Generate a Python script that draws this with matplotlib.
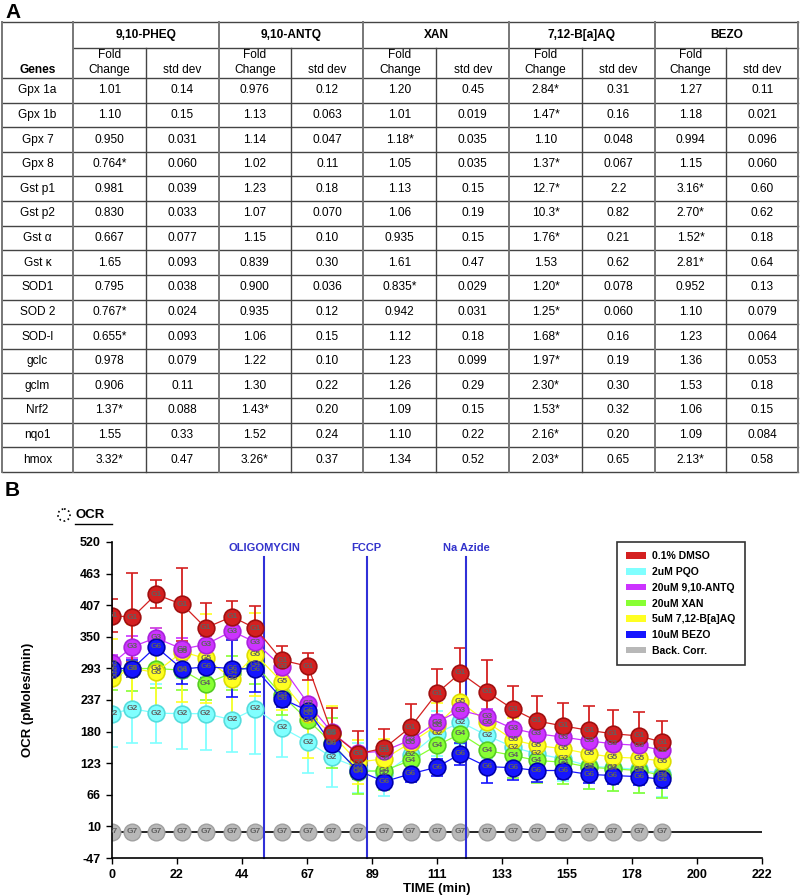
import numpy as np
import matplotlib.pyplot as plt
from matplotlib.patches import Patch, Circle

plt.rcParams['font.family'] = ['Liberation Sans', 'DejaVu Sans']

# ---------------- Panel A data ----------------
compounds = ["9,10-PHEQ", "9,10-ANTQ", "XAN", "7,12-B[a]AQ", "BEZO"]
genes = ["Gpx 1a", "Gpx 1b", "Gpx 7", "Gpx 8", "Gst p1", "Gst p2", "Gst α", "Gst κ",
         "SOD1", "SOD 2", "SOD-l", "gclc", "gclm", "Nrf2", "nqo1", "hmox"]

pheq_fc = ["1.01", "1.10", "0.950", "0.764*", "0.981", "0.830", "0.667", "1.65",
           "0.795", "0.767*", "0.655*", "0.978", "0.906", "1.37*", "1.55", "3.32*"]
pheq_sd = ["0.14", "0.15", "0.031", "0.060", "0.039", "0.033", "0.077", "0.093",
           "0.038", "0.024", "0.093", "0.079", "0.11", "0.088", "0.33", "0.47"]
antq_fc = ["0.976", "1.13", "1.14", "1.02", "1.23", "1.07", "1.15", "0.839",
           "0.900", "0.935", "1.06", "1.22", "1.30", "1.43*", "1.52", "3.26*"]
antq_sd = ["0.12", "0.063", "0.047", "0.11", "0.18", "0.070", "0.10", "0.30",
           "0.036", "0.12", "0.15", "0.10", "0.22", "0.20", "0.24", "0.37"]
xan_fc = ["1.20", "1.01", "1.18*", "1.05", "1.13", "1.06", "0.935", "1.61",
          "0.835*", "0.942", "1.12", "1.23", "1.26", "1.09", "1.10", "1.34"]
xan_sd = ["0.45", "0.019", "0.035", "0.035", "0.15", "0.19", "0.15", "0.47",
          "0.029", "0.031", "0.18", "0.099", "0.29", "0.15", "0.22", "0.52"]
baq_fc = ["2.84*", "1.47*", "1.10", "1.37*", "12.7*", "10.3*", "1.76*", "1.53",
          "1.20*", "1.25*", "1.68*", "1.97*", "2.30*", "1.53*", "2.16*", "2.03*"]
baq_sd = ["0.31", "0.16", "0.048", "0.067", "2.2", "0.82", "0.21", "0.62",
          "0.078", "0.060", "0.16", "0.19", "0.30", "0.32", "0.20", "0.65"]
bezo_fc = ["1.27", "1.18", "0.994", "1.15", "3.16*", "2.70*", "1.52*", "2.81*",
           "0.952", "1.10", "1.23", "1.36", "1.53", "1.06", "1.09", "2.13*"]
bezo_sd = ["0.11", "0.021", "0.096", "0.060", "0.60", "0.62", "0.18", "0.64",
           "0.13", "0.079", "0.064", "0.053", "0.18", "0.15", "0.084", "0.58"]

# ---------------- Panel B data ----------------
time = [0, 7, 15, 24, 32, 41, 49, 58, 67, 75, 84, 93, 102, 111, 119, 128, 137, 145, 154, 163, 171, 180, 188]

dmso = [388, 385, 426, 408, 366, 386, 365, 308, 297, 178, 140, 150, 188, 249, 285, 251, 220, 199, 190, 182, 176, 172, 161]
dmso_err = [30, 80, 25, 65, 45, 28, 40, 25, 24, 45, 41, 35, 41, 44, 45, 57, 42, 45, 42, 44, 42, 43, 38]
pqo = [212, 221, 213, 212, 212, 201, 221, 187, 161, 134, 115, 104, 138, 176, 197, 173, 152, 140, 131, 118, 115, 112, 104]
pqo_err = [60, 62, 53, 64, 66, 58, 82, 53, 55, 54, 45, 40, 40, 40, 40, 40, 40, 40, 40, 42, 42, 42, 42]
antq = [302, 332, 348, 328, 336, 360, 340, 296, 230, 179, 141, 145, 165, 197, 218, 206, 185, 176, 170, 163, 158, 155, 146]
antq_err = [15, 20, 18, 20, 15, 12, 15, 15, 10, 10, 10, 10, 12, 12, 12, 15, 10, 10, 10, 10, 10, 10, 10]
xan = [285, 293, 293, 290, 266, 285, 300, 245, 200, 160, 108, 110, 128, 155, 176, 146, 137, 128, 125, 116, 113, 110, 101]
xan_err = [30, 40, 35, 35, 30, 30, 35, 35, 40, 45, 40, 35, 35, 35, 30, 35, 40, 40, 40, 40, 40, 40, 41]
baq = [276, 293, 286, 323, 311, 275, 318, 269, 212, 176, 125, 131, 160, 191, 233, 197, 165, 155, 149, 140, 134, 132, 127]
baq_err = [70, 80, 80, 90, 80, 70, 75, 50, 80, 50, 40, 35, 35, 40, 40, 45, 40, 35, 35, 35, 35, 35, 35]
bezo = [293, 293, 332, 292, 296, 293, 292, 239, 217, 158, 110, 90, 104, 116, 140, 117, 115, 110, 110, 103, 101, 99, 94]
bezo_err = [20, 15, 12, 26, 20, 52, 41, 15, 15, 15, 15, 12, 15, 15, 20, 30, 22, 20, 15, 15, 15, 15, 15]
back = [0, 0, 0, 0, 0, 0, 0, 0, 0, 0, 0, 0, 0, 0, 0, 0, 0, 0, 0, 0, 0, 0, 0]

legend_labels = ["0.1% DMSO", "2uM PQO", "20uM 9,10-ANTQ", "20uM XAN",
                 "5uM 7,12-B[a]AQ", "10uM BEZO", "Back. Corr."]
event_times = [52, 87, 121]
event_names = ["OLIGOMYCIN", "FCCP", "Na Azide"]
x_labels = ["0", "22", "44", "67", "89", "111", "133", "155", "178", "200", "222"]
y_labels = ["-47", "10", "66", "123", "180", "237", "293", "350", "407", "463", "520"]

fig = plt.figure(figsize=(8, 8.96), dpi=100)

# canvas in pixel units for the table and panel letters
cv = fig.add_axes([0, 0, 1, 1])
cv.set_xlim(0, 800)
cv.set_ylim(896, 0)
cv.axis('off')

cv.text(5, 12, "A", fontsize=15, fontweight='bold', va='center')
cv.text(5, 491, "B", fontsize=15, fontweight='bold', va='center')

# table grid
top, h1, h2, bottom = 22, 48, 78, 472
edges = [73, 218.7, 363.3, 509.3, 654.7, 798]
row_h = (bottom - h2) / len(genes)
hc = '#444444'
vc = '#777777'
cv.plot([2, 798], [top, top], color=hc, lw=1)
cv.plot([73, 798], [h1, h1], color=hc, lw=1)
for i in range(len(genes) + 1):
    y = h2 + i * row_h
    cv.plot([2, 798], [y, y], color=hc, lw=1)
cv.plot([2, 2], [top, bottom], color=vc, lw=1.4)
for x in edges:
    cv.plot([x, x], [top, bottom], color=vc, lw=1.4)
for i in range(5):
    mid = (edges[i] + edges[i + 1]) / 2
    cv.plot([mid, mid], [h1, bottom], color=hc, lw=1)

fs = 8.6
cv.text(37.5, 70, "Genes", fontsize=fs, fontweight='bold', ha='center', va='center')
fc_cols = [pheq_fc, antq_fc, xan_fc, baq_fc, bezo_fc]
sd_cols = [pheq_sd, antq_sd, xan_sd, baq_sd, bezo_sd]
for i, name in enumerate(compounds):
    left, right = edges[i], edges[i + 1]
    mid = (left + right) / 2
    cfc = (left + mid) / 2
    csd = (mid + right) / 2
    cv.text(mid, 35, name, fontsize=fs, fontweight='bold', ha='center', va='center')
    cv.text(cfc, 55, "Fold", fontsize=fs, ha='center', va='center')
    cv.text(cfc, 70, "Change", fontsize=fs, ha='center', va='center')
    cv.text(csd, 70, "std dev", fontsize=fs, ha='center', va='center')
    for r in range(len(genes)):
        yc = h2 + (r + 0.5) * row_h
        cv.text(cfc, yc, fc_cols[i][r], fontsize=fs, ha='center', va='center')
        cv.text(csd, yc, sd_cols[i][r], fontsize=fs, ha='center', va='center')
for r, g in enumerate(genes):
    yc = h2 + (r + 0.5) * row_h
    cv.text(37.5, yc, g, fontsize=fs, ha='center', va='center')

# OCR header with dotted circle
cv.add_patch(Circle((64, 515), 6, fill=False, ls=':', lw=1.2, ec='black'))
cv.text(75, 515, "OCR", fontsize=9.5, fontweight='bold', va='center')
cv.plot([75, 112], [524, 524], color='black', lw=1)

# ---------------- Panel B chart ----------------
ax = fig.add_axes([112 / 800, 1 - 858 / 896, 650 / 800, 316 / 896])
ax.set_xlim(0, 222)
ax.set_ylim(-47, 520)

series = [
    (pqo, pqo_err, '#80ffff', '#55dddd', 'G2'),
    (xan, xan_err, '#88ff33', '#55cc22', 'G4'),
    (baq, baq_err, '#ffff22', '#dddd00', 'G5'),
    (antq, antq_err, '#cc33ff', '#aa22dd', 'G3'),
    (bezo, bezo_err, '#1515ff', '#0000aa', 'G6'),
    (dmso, dmso_err, '#d42020', '#a01010', 'G1'),
]
for vals, err, fcol, ecol, tag in series:
    ax.errorbar(time, vals, yerr=err, color=fcol, ecolor=fcol, elinewidth=1.3,
                capsize=4, capthick=1.3, lw=0.9, marker='o', ms=12,
                mfc=fcol, mec=ecol, mew=1.2)
    for t, v in zip(time, vals):
        ax.text(t, v, tag, fontsize=6, fontweight='bold', color='#606060',
                ha='center', va='center', clip_on=True)

ax.axhline(0, color='black', lw=1.2, zorder=1)
ax.plot(time, back, ls='none', marker='o', ms=12, mfc='#b8b8b8', mec='#a0a0a0')
for t, v in zip(time, back):
    ax.text(t, v, 'G7', fontsize=6, fontweight='bold', color='#606060',
            ha='center', va='center', clip_on=True)

for t, name in zip(event_times, event_names):
    ax.plot([t, t], [-47, 493], color='#3030d8', lw=1.5, clip_on=False)
    ax.text(t, 509, name, fontsize=8, fontweight='bold', color='#3333cc',
            ha='center', va='center')

ax.set_xticks(np.linspace(0, 222, 11))
ax.set_xticklabels(x_labels, fontweight='bold', fontsize=9)
ax.set_yticks(np.linspace(-47, 520, 11))
ax.set_yticklabels(y_labels, fontweight='bold', fontsize=9)
ax.tick_params(direction='out', length=4, width=1, pad=4)
for s in ['top', 'right']:
    ax.spines[s].set_visible(False)
for s in ['left', 'bottom']:
    ax.spines[s].set_linewidth(1.2)

fig.text(28 / 800, 1 - 700 / 896, "OCR (pMoles/min)", rotation=90, fontsize=9.5,
         fontweight='bold', ha='center', va='center')
fig.text(437 / 800, 1 - 889 / 896, "TIME (min)", fontsize=9.5, fontweight='bold',
         ha='center', va='center')

leg_colors = ['#d42020', '#80ffff', '#cc33ff', '#88ff33', '#ffff22', '#1515ff', '#b8b8b8']
handles = [Patch(facecolor=c, edgecolor='none', label=l) for c, l in zip(leg_colors, legend_labels)]
leg = ax.legend(handles=handles, loc='upper left', bbox_to_anchor=(617 / 800, 1 - 542 / 896),
                bbox_transform=fig.transFigure, prop={'weight': 'bold', 'size': 7.5},
                frameon=True, fancybox=False, edgecolor='black', handlelength=1.9,
                handleheight=0.6, labelspacing=0.55, borderpad=0.9, handletextpad=0.6,
                borderaxespad=0)
leg.get_frame().set_linewidth(1.2)

fig.savefig("out.png", dpi=100)
